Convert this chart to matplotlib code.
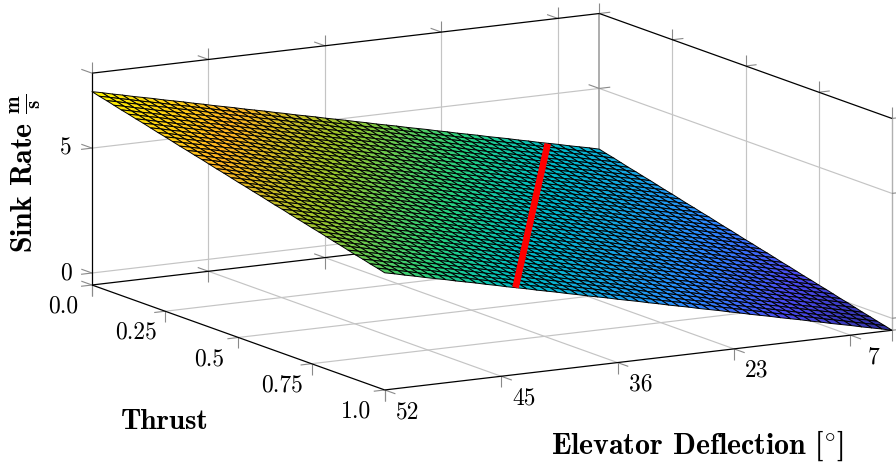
import matplotlib
matplotlib.use('Agg')
import matplotlib.pyplot as plt
import numpy as np
from matplotlib.colors import LinearSegmentedColormap
from mpl_toolkits.mplot3d import proj3d

plt.rcParams['mathtext.fontset'] = 'cm'

elevator_labels = ['52', '45', '36', '23', '7']
thrust_ticks = [0.0, 0.25, 0.5, 0.75, 1.0]
thrust_labels = ['0.0', '0.25', '0.5', '0.75', '1.0']
sink_ticks = [0, 5]
elevator_end = 4.357
sink_min, sink_max = -0.48, 8.0

# sink rate along the thrust = 0 edge, one value per mesh line
sink_at_zero_thrust = [
    7.26, 7.17, 7.07, 6.98, 6.88, 6.79, 6.70, 6.60, 6.51, 6.42, 6.32,
    6.23, 6.13, 6.04, 5.95, 5.85, 5.76, 5.67, 5.57, 5.48, 5.38,
    5.29, 5.20, 5.10, 5.01, 4.92, 4.82, 4.73, 4.63, 4.54, 4.45,
    4.35, 4.26, 4.17, 4.07, 3.98, 3.88, 3.79, 3.70, 3.60, 3.51,
    3.42, 3.32, 3.23, 3.13, 3.04, 2.95, 2.85, 2.76, 2.67, 2.57]
# how much sink rate is lost going from thrust 0 to 1
sink_drop_with_thrust = [
    0.00, 0.08, 0.15, 0.23, 0.31, 0.38, 0.46, 0.53, 0.61, 0.69, 0.76,
    0.84, 0.92, 0.99, 1.07, 1.14, 1.22, 1.30, 1.37, 1.45, 1.53,
    1.60, 1.68, 1.75, 1.83, 1.91, 1.98, 2.06, 2.14, 2.21, 2.29,
    2.36, 2.44, 2.52, 2.59, 2.67, 2.75, 2.82, 2.90, 2.97, 3.05]

# red line on the surface
red_elevator = [3.914, 1.124]
red_thrust = [0.0, 1.0]
red_sink = [3.03, 3.00]

surface_cmap = LinearSegmentedColormap.from_list('surface', [
    (0.00, '#2e2e98'), (0.13, '#4a4af0'), (0.25, '#2a8cff'), (0.45, '#00bcc4'),
    (0.55, '#26d080'), (0.70, '#9cc42c'), (0.83, '#ffb422'), (1.00, '#fcf400')])

fig = plt.figure(figsize=(8.96, 4.66), dpi=100)
ax = fig.add_axes([0, 0, 1, 1], projection='3d', proj_type='ortho')
ax.set_axis_off()
ax.computed_zorder = False
ax.view_init(elev=11.85, azim=-119.8)
ax.set_box_aspect((585, 589.4, 216.6))
ax.set_xlim(0, elevator_end, view_margin=0)
ax.set_ylim(1, 0, view_margin=0)
ax.set_zlim(sink_min, sink_max, view_margin=0)


def pixel(e, t, z):
    x2, y2, _ = proj3d.proj_transform(e, t, z, ax.get_proj())
    return ax.transData.transform((x2, y2))


# place the cube so the box corners land where they should
side = 800.0
for _ in range(3):
    ax.set_position([0, 0, side / 896, side / 466])
    ax.apply_aspect()
    a = pixel(0, 0, sink_min)
    b = pixel(elevator_end, 1, sink_min)
    side = side * (892 - 92) / (b[0] - a[0])
ax.set_position([0, 0, side / 896, side / 466])
ax.apply_aspect()
a = pixel(0, 0, sink_min)
ax.set_position([(92 - a[0]) / 896, ((466 - 285) - a[1]) / 466, side / 896, side / 466])
ax.apply_aspect()


def seg(p, q, color, lw, zorder=1):
    ax.plot([p[0], q[0]], [p[1], q[1]], [p[2], q[2]], color=color, lw=lw,
            zorder=zorder, clip_on=False, solid_capstyle='butt')


def label(p, dx, dy, text):
    # text beside a projected point, offset in pixels
    px = pixel(*p)
    fig.text((px[0] + dx) / 896, (px[1] - dy) / 466, text, family='cmr10', fontsize=17,
             ha='center', va='center')


grid_c = '#c4c4c4'
tick_c = '#8a8a8a'
e_end = elevator_end

# grid on floor and both walls
for i in range(1, 5):
    seg((i, 0, sink_min), (i, 1, sink_min), grid_c, 0.85)
    seg((i, 0, sink_min), (i, 0, sink_max), grid_c, 0.85)
for t in thrust_ticks[1:4]:
    seg((0, t, sink_min), (e_end, t, sink_min), grid_c, 0.85)
    seg((e_end, t, sink_min), (e_end, t, sink_max), grid_c, 0.85)
for z in sink_ticks:
    seg((0, 0, z), (e_end, 0, z), grid_c, 0.85)
    seg((e_end, 0, z), (e_end, 1, z), grid_c, 0.85)
seg((e_end, 0, sink_min), (e_end, 0, sink_max), '#a0a0a0', 1.2)
seg((e_end, 1, sink_min), (e_end, 1, sink_max), '#b0b0b0', 1.0)

# tick marks
dz, dt, de = 0.44, 0.0365, 0.094
for i in range(5):
    seg((i, 0, sink_max), (i, 0, sink_max + dz), tick_c, 0.8)
    seg((i, 0, sink_max), (i, -dt, sink_max), tick_c, 0.8)
    seg((i, 0, sink_min), (i, 0, sink_min - dz), tick_c, 0.8)
    seg((i, 0, sink_min), (i, -dt, sink_min), tick_c, 0.8)
    seg((i, 1, sink_min), (i, 1, sink_min - dz), tick_c, 0.8)
    seg((i, 1, sink_min), (i, 1 + dt, sink_min), tick_c, 0.8)
for t in thrust_ticks:
    seg((0, t, sink_min), (0, t, sink_min - dz), tick_c, 0.8)
    seg((0, t, sink_min), (-de, t, sink_min), tick_c, 0.8)
    seg((e_end, t, sink_max), (e_end, t, sink_max + dz), tick_c, 0.8)
    seg((e_end, t, sink_max), (e_end + de, t, sink_max), tick_c, 0.8)
    seg((e_end, t, sink_min), (e_end, t, sink_min - dz), tick_c, 0.8)
    seg((e_end, t, sink_min), (e_end + de, t, sink_min), tick_c, 0.8)
for z in sink_ticks:
    seg((0, 0, z), (0, -dt, z), tick_c, 0.8)
    seg((0, 0, z), (-de, 0, z), tick_c, 0.8)
    seg((e_end, 0, z), (e_end, -dt, z), tick_c, 0.8)
    seg((e_end, 0, z), (e_end + de, 0, z), tick_c, 0.8)
    seg((e_end, 1, z), (e_end + de, 1, z), tick_c, 0.8)

# box outline
box_c = 'black'
seg((0, 0, sink_min), (0, 0, sink_max), box_c, 0.9, 2)
seg((0, 0, sink_max), (e_end, 0, sink_max), box_c, 0.9, 2)
seg((e_end, 0, sink_max), (e_end, 1, sink_max), box_c, 0.9, 2)
seg((0, 0, sink_min), (e_end, 0, sink_min), box_c, 0.9, 2)
seg((0, 0, sink_min), (0, 1, sink_min), box_c, 0.9, 2)
seg((0, 1, sink_min), (e_end, 1, sink_min), box_c, 0.9, 2)

# surface
profile = np.array(sink_at_zero_thrust)
drop = np.array(sink_drop_with_thrust)
E, T = np.meshgrid(np.linspace(0, e_end, len(profile)), np.linspace(0, 1, len(drop)))
Z = profile[None, :] - drop[:, None]
ax.plot_surface(E, T, Z, rstride=1, cstride=1, cmap=surface_cmap, vmin=Z.min(), vmax=Z.max(),
                edgecolor='black', linewidth=0.7, shade=False, antialiased=True, zorder=3)

ax.plot(red_elevator, red_thrust, red_sink, color='#ff0000', lw=4.8, zorder=4,
        solid_capstyle='butt', clip_on=False)

# tick labels
for i, lab in enumerate(elevator_labels):
    label((i, 1, sink_min), 23, 22, lab)
for t, lab in zip(thrust_ticks, thrust_labels):
    label((0, t, sink_min), -29, 21.5, lab)
for z in sink_ticks:
    label((0, 0, z), -26.5, 0, str(z))

fig.text(164.5 / 896, 1 - 422 / 466, 'Thrust', family='cmb10', fontsize=21,
         ha='center', va='center')
fig.text(697.5 / 896, 1 - 446 / 466, r'Elevator Deflection [$^{\circ}$]', family='cmb10',
         fontsize=21.5, ha='center', va='center')
fig.text(26 / 896, 1 - 173 / 466, r'Sink Rate $\mathbf{\frac{m}{s}}$', family='cmb10',
         fontsize=21.5, ha='center', va='center', rotation=90)

fig.savefig('out.png', dpi=100)
